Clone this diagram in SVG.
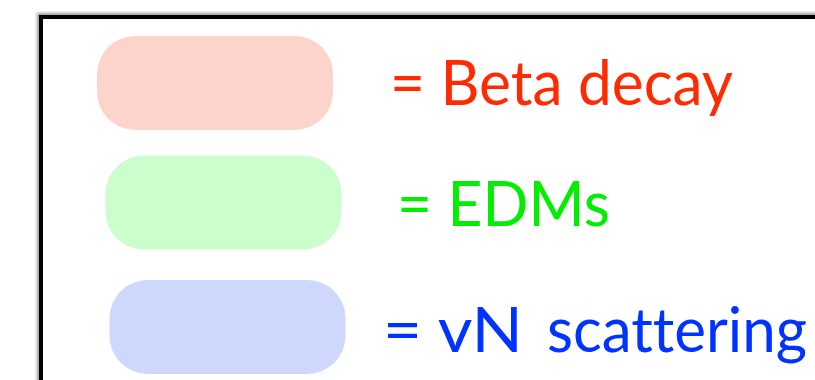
<svg xmlns="http://www.w3.org/2000/svg" width="815" height="380" viewBox="0 0 815 380">
<defs>
<style>
.lbl{font-family:"Gill Sans","Lato","Open Sans",sans-serif;font-size:62px;font-variant-ligatures:none;font-feature-settings:"liga" 0,"dlig" 0;}
.box{rx:38px;ry:38px;}
</style>
<filter id="sh" x="-5%" y="-5%" width="110%" height="110%"><feGaussianBlur stdDeviation="1.5"/></filter>
</defs>
<rect width="815" height="380" fill="#ffffff"/>
<g id="frame">
<rect x="39" y="15" width="800" height="400" fill="none" stroke="#999" stroke-width="4" filter="url(#sh)"/>
<rect x="41" y="17" width="800" height="400" fill="none" stroke="#000" stroke-width="4"/>
</g>
<g id="beta">
<rect class="box" x="97" y="36" width="236" height="94" rx="38" ry="38" fill="#FDD4CC"/>
<text class="lbl" x="390" y="105" fill="#FF2A00" textLength="343" lengthAdjust="spacingAndGlyphs">= Beta decay</text>
</g>
<g id="edm">
<rect class="box" x="105.5" y="155.5" width="236" height="94" rx="38" ry="38" fill="#CCFDCC"/>
<text class="lbl" x="397" y="226" fill="#00EE00" textLength="213" lengthAdjust="spacingAndGlyphs">= EDMs</text>
</g>
<g id="nu">
<rect class="box" x="109.5" y="280" width="236" height="94" rx="38" ry="38" fill="#CED8FD"/>
<text class="lbl" x="383" y="352" fill="#0033FF" font-size="67" textLength="140" lengthAdjust="spacingAndGlyphs">= vN</text>
<text class="lbl" x="547" y="352" fill="#0033FF" font-size="58" textLength="260" lengthAdjust="spacingAndGlyphs">scattering</text>
</g>
</svg>
